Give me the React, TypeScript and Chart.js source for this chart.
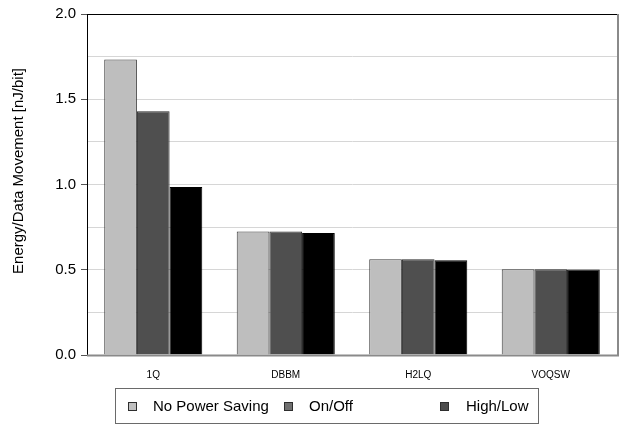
import React, { useEffect, useRef } from "react";
import { Chart, registerables } from "chart.js";

Chart.register(...registerables);

const categories = ["1Q", "DBBM", "H2LQ", "VOQSW"];
const noPowerSaving = [1.733, 0.725, 0.561, 0.503];
const onOff = [1.429, 0.725, 0.561, 0.503];
const highLow = [0.986, 0.715, 0.555, 0.502];
const seriesNames = ["No Power Saving", "On/Off", "High/Low"];
const yTickValues = [0, 0.5, 1.0, 1.5, 2.0];
const yTitle = "Energy/Data Movement [nJ/bit]";

const FONT = '"Liberation Sans", Arial, Helvetica, sans-serif';

// frame, rotated axis title and boxed legend
const decorations = {
  id: "decorations",
  afterDraw(chart: any) {
    const { ctx, chartArea } = chart;
    const { left, right, top, bottom } = chartArea;
    ctx.save();

    // right and bottom border in grey
    ctx.strokeStyle = "#8a8a8a";
    ctx.lineWidth = 2;
    ctx.beginPath();
    ctx.moveTo(right + 1, top);
    ctx.lineTo(right + 1, bottom + 1);
    ctx.stroke();
    ctx.beginPath();
    ctx.moveTo(left, bottom + 0.5);
    ctx.lineTo(right + 2, bottom + 0.5);
    ctx.stroke();

    // top border
    ctx.strokeStyle = "#000";
    ctx.lineWidth = 1;
    ctx.beginPath();
    ctx.moveTo(left, top + 0.5);
    ctx.lineTo(right, top + 0.5);
    ctx.stroke();

    // y axis title
    ctx.fillStyle = "#000";
    ctx.font = `15px ${FONT}`;
    ctx.textAlign = "center";
    ctx.textBaseline = "middle";
    ctx.translate(19, 171);
    ctx.rotate(-Math.PI / 2);
    ctx.fillText(yTitle, 0, 0);
    ctx.restore();

    // legend box
    ctx.save();
    ctx.strokeStyle = "#6a6a6a";
    ctx.lineWidth = 1;
    ctx.strokeRect(115.5, 388.5, 423, 35);
    const swatchX = [128, 284, 440];
    const textX = [153, 309, 466];
    const swatchColors = ["#c0c0c0", "#707070", "#4c4c4c"];
    ctx.font = `15px ${FONT}`;
    ctx.textAlign = "left";
    ctx.textBaseline = "middle";
    seriesNames.forEach((name, i) => {
      ctx.fillStyle = swatchColors[i];
      ctx.fillRect(swatchX[i], 402, 9, 9);
      ctx.strokeStyle = "#2e2e2e";
      ctx.strokeRect(swatchX[i] + 0.5, 402.5, 8, 8);
      ctx.fillStyle = "#000";
      ctx.fillText(name, textX[i], 406.5);
    });
    ctx.restore();
  },
};

export default function App() {
  const canvasRef = useRef<HTMLCanvasElement | null>(null);

  useEffect(() => {
    document.body.style.margin = "0";
    const canvas = canvasRef.current;
    if (!canvas) return;

    const chart = new Chart(canvas, {
      type: "bar",
      data: {
        labels: categories,
        datasets: [
          {
            label: seriesNames[0],
            data: noPowerSaving,
            backgroundColor: "#bebebe",
            borderColor: "#3a3a3a",
            borderWidth: 1,
          },
          {
            label: seriesNames[1],
            data: onOff,
            backgroundColor: "#4f4f4f",
            borderColor: "#2a2a2a",
            borderWidth: 1,
          },
          {
            label: seriesNames[2],
            data: highLow,
            backgroundColor: "#000000",
            borderColor: "#000000",
            borderWidth: 1,
          },
        ],
      },
      plugins: [decorations],
      options: {
        animation: false,
        responsive: true,
        maintainAspectRatio: false,
        layout: { padding: { top: 10, right: 7, left: 0, bottom: 0 } },
        datasets: {
          bar: { categoryPercentage: 0.74, barPercentage: 1.0 },
        },
        plugins: {
          legend: { display: false },
          tooltip: { enabled: false },
          title: { display: false },
        },
        scales: {
          x: {
            grid: { display: false, drawTicks: false },
            border: { display: false },
            ticks: {
              font: { family: FONT, size: 10 },
              color: "#000",
              padding: 14,
            },
            afterFit(scale: any) {
              scale.height = 70;
            },
          },
          y: {
            min: 0,
            max: 2,
            z: 1,
            afterBuildTicks(scale: any) {
              const all: { value: number }[] = [];
              for (let k = 0; k <= 8; k++) all.push({ value: k * 0.25 });
              scale.ticks = all;
            },
            ticks: {
              font: { family: FONT, size: 15 },
              color: "#000",
              padding: 5,
              callback: (v: any) => {
                const n = Number(v);
                return yTickValues.some((t) => Math.abs(t - n) < 1e-6) ? n.toFixed(1) : "";
              },
            },
            grid: {
              tickLength: 6,
              lineWidth: 1,
              color: (c: any) => {
                const v = c.tick ? c.tick.value : 0;
                if (Math.abs(v) < 1e-6) return "rgba(0,0,0,0)";
                if (Math.abs(v - 2) < 1e-6) return "rgba(0,0,0,0)";
                return "#d6d6d6";
              },
              tickColor: (c: any) => {
                const v = c.tick ? c.tick.value : 0;
                return yTickValues.some((t) => Math.abs(t - v) < 1e-6) ? "#555" : "rgba(0,0,0,0)";
              },
            },
            border: { display: true, color: "#000", width: 1 },
            afterFit(scale: any) {
              scale.width = 87;
            },
          },
        },
      },
    });

    return () => chart.destroy();
  }, []);

  return (
    <div style={{ position: "fixed", left: 0, top: 0, width: 624, height: 425, background: "#fff" }}>
      <canvas ref={canvasRef} />
    </div>
  );
}
